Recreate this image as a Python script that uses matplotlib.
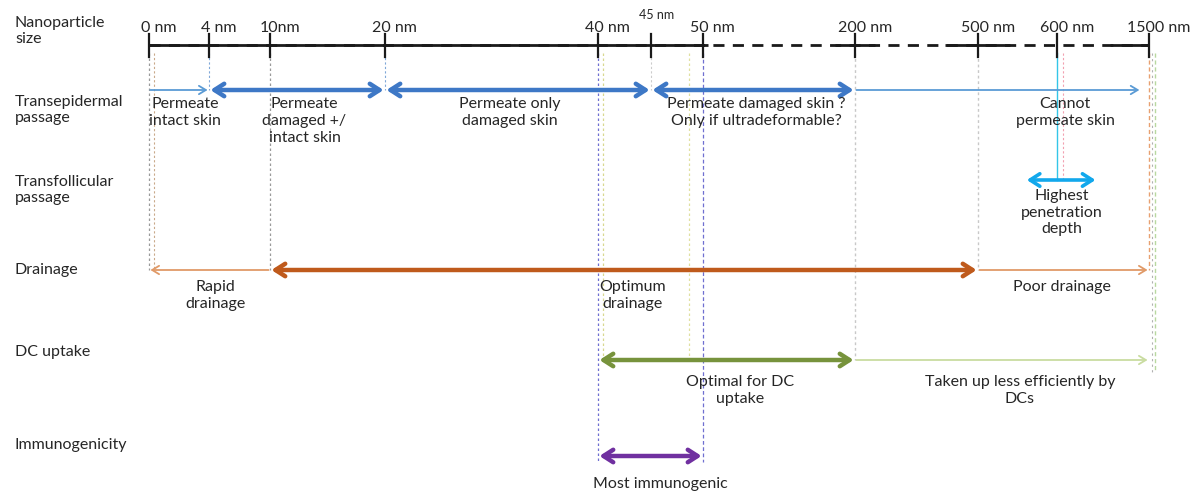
import numpy as np
import matplotlib
matplotlib.use("Agg")
import matplotlib.pyplot as plt

plt.rcParams['font.family'] = ['Lato', 'DejaVu Sans']

# ---------------- data ----------------
tick_nm = [0, 4, 10, 20, 40, 45, 50, 200, 500, 600, 1500]
tick_labels = ['0 nm', '4 nm', '10nm', '20 nm', '40 nm', '45 nm', '50 nm',
               '200 nm', '500 nm', '600 nm', '1500 nm']

row_labels = ["Nanoparticle\nsize", "Transepidermal\npassage",
              "Transfollicular\npassage", "Drainage", "DC uptake",
              "Immunogenicity"]

# (start nm, end nm, style key)
transepidermal_ranges = [(0, 4, 'thin_r'), (4, 20, 'thick'), (20, 45, 'thick'),
                         (45, 200, 'thick'), (200, 1420, 'thin_r')]
transepidermal_text = ["Permeate\nintact skin", "Permeate\ndamaged +/\nintact skin",
                       "Permeate only\ndamaged skin",
                       "Permeate damaged skin ?\nOnly if ultradeformable?",
                       "Cannot\npermeate skin"]
transepidermal_text_nm = [2.4, 13, 31.7, 103, 680]

transfollicular_ranges = [(560, 990, 'thick')]
transfollicular_text = ["Highest\npenetration\ndepth"]
transfollicular_text_nm = [650]

drainage_ranges = [(0, 10, 'thin_l'), (10, 500, 'thick'), (500, 1500, 'thin_r')]
drainage_text = ["Rapid\ndrainage", "Optimum\ndrainage", "Poor drainage"]
drainage_text_nm = [4.6, 43.3, 650]

dc_ranges = [(40, 200, 'thick'), (200, 1500, 'thin_r')]
dc_text = ["Optimal for DC\nuptake", "Taken up less efficiently by\nDCs"]
dc_text_nm = [86.5, 553]

immuno_ranges = [(40, 50, 'thick')]
immuno_text = ["Most immunogenic"]
immuno_text_nm = [45.9]

# ---------------- layout ----------------
W, H = 1199, 496
# schematic (non-linear) size axis: nm -> horizontal pixel position
scale_nm = [-9.93, 0, 4, 10, 20, 40, 45, 50, 200, 500, 600, 1500, 1600]
scale_px = [0, 149, 209, 270, 385, 598, 651, 703, 855, 978, 1057, 1149, 1199]

def fwd(x):
    return np.interp(x, scale_nm, scale_px)

def inv(p):
    return np.interp(p, scale_px, scale_nm)

AXIS_Y = 45
row_y = [AXIS_Y, 90, 180, 270, 360, 456]
row_label_y = [31, 110, 190, 270, 352, 445]
text_off = [0, 7, 9, 10, 15, 21]

fig = plt.figure(figsize=(W / 100, H / 100), dpi=100)
ax = fig.add_axes([0, 0, 1, 1])
ax.set_xscale('function', functions=(fwd, inv))
ax.set_xlim(scale_nm[0], scale_nm[-1])
ax.set_ylim(H, 0)
ax.axis('off')

TXT = '#262626'
FS = 11.5

# ---------------- vertical guide lines ----------------
guides = [  # (nm, y_bottom, color, style, lw)
    (0, 270, '#9a9a9a', (0, (2, 2)), 0.9),
    (0.3, 270, '#c9a98a', (0, (2, 2)), 0.8),
    (4, 90, '#7fa7d8', (0, (2, 2)), 0.8),
    (10, 270, '#9a9a9a', (0, (2, 2)), 0.9),
    (20, 90, '#7fa7d8', (0, (2, 2)), 0.8),
    (40, 462, '#6f6fd0', (0, (2, 2)), 0.9),
    (40.5, 360, '#d8d890', (0, (2, 2)), 0.9),
    (45, 90, '#cccccc', (0, (2, 2)), 0.8),
    (48.7, 360, '#e0e0a0', (0, (2, 2)), 0.9),
    (50, 462, '#6f6fd0', (0, (3, 2)), 0.9),
    (200, 360, '#c8c8c8', (0, (2, 2)), 1.0),
    (500, 270, '#c8c8c8', (0, (2, 2)), 1.0),
    (600, 180, '#33c6e8', '-', 1.0),
    (660, 180, '#f2a0b0', (0, (2, 2)), 0.8),
    (1500, 270, '#e8a070', (0, (3, 2)), 1.0),
    (1506, 372, '#b0b0b0', (0, (2, 3)), 0.8),
    (1512, 372, '#b8d8a0', (0, (3, 2)), 1.0),
]
for x, yb, c, ls, lw in guides:
    ax.plot([x, x], [AXIS_Y + 8, yb], color=c, ls=ls, lw=lw, zorder=1)

# ---------------- main size axis ----------------
ax.plot([0, 1500], [AXIS_Y, AXIS_Y], color='#1a1a1a', lw=2.0,
        ls=(0, (4, 3)), zorder=3)
for a, b in [(0, 55), (180, 249), (420, 540), (1118, 1500)]:
    ax.plot([a, b], [AXIS_Y, AXIS_Y], color='#1a1a1a', lw=2.0,
            solid_capstyle='butt', zorder=3)
for x, lab in zip(tick_nm, tick_labels):
    ax.plot([x, x], [AXIS_Y - 11, AXIS_Y + 12], color='#1a1a1a', lw=1.6, zorder=4)
    if lab == '45 nm':
        ax.annotate(lab, (x, 15), xytext=(4, 0), textcoords='offset points',
                    ha='center', va='center', fontsize=9, color=TXT)
    else:
        ax.annotate(lab, (x, 28), xytext=(7, 0), textcoords='offset points',
                    ha='center', va='center', fontsize=FS, color=TXT)

# ---------------- row labels ----------------
tr = ax.get_yaxis_transform()
for lab, y in zip(row_labels, row_label_y):
    ax.text(15 / W, y, lab, transform=tr, ha='left', va='center',
            fontsize=FS, color=TXT, linespacing=1.25)

# ---------------- arrows ----------------
def draw_row(y, ranges, thick_color, thin_color, lw_thick=3.2):
    for a, b, kind in ranges:
        if kind == 'thick':
            style = '<->,head_length=0.7,head_width=0.45'
            col, lw = thick_color, lw_thick
        elif kind == 'thin_r':
            style = '->,head_length=0.5,head_width=0.3'
            col, lw = thin_color, 1.3
        else:
            style = '<-,head_length=0.5,head_width=0.3'
            col, lw = thin_color, 1.3
        ax.annotate('', xy=(b, y), xytext=(a, y),
                    arrowprops=dict(arrowstyle=style, color=col, lw=lw,
                                    shrinkA=1, shrinkB=1), zorder=5)

def draw_text(y, texts, xs, off):
    for t, x in zip(texts, xs):
        ax.text(x, y + off, t, ha='center', va='top', fontsize=FS,
                color=TXT, linespacing=1.25, zorder=6)

draw_row(row_y[1], transepidermal_ranges, '#3e78c6', '#5b9bd5')
draw_text(row_y[1], transepidermal_text, transepidermal_text_nm, text_off[1])

draw_row(row_y[2], transfollicular_ranges, '#12a8ec', '#12a8ec', lw_thick=2.6)
draw_text(row_y[2], transfollicular_text, transfollicular_text_nm, text_off[2])

draw_row(row_y[3], drainage_ranges, '#bf5a1c', '#e09a68')
draw_text(row_y[3], drainage_text, drainage_text_nm, text_off[3])

draw_row(row_y[4], dc_ranges, '#77933c', '#c9dca0')
draw_text(row_y[4], dc_text, dc_text_nm, text_off[4])

draw_row(row_y[5], immuno_ranges, '#7030a0', '#7030a0')
draw_text(row_y[5], immuno_text, immuno_text_nm, text_off[5])

fig.savefig('out.png', dpi=100, facecolor='white')
